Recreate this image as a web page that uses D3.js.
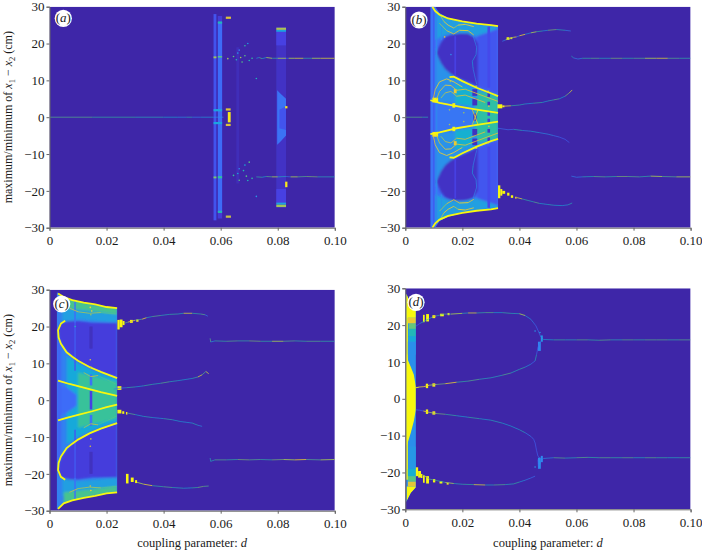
<!DOCTYPE html>
<html>
<head>
<meta charset="utf-8">
<script src="https://cdnjs.cloudflare.com/ajax/libs/d3/7.8.5/d3.min.js"></script>
<style>
html, body { margin: 0; padding: 0; background: #fff; }
svg text { font-family: "Liberation Serif", serif; fill: #1a1a1a; }
.axis text { font-size: 13px; }
.axis path, .axis line { stroke: #666; }
</style>
</head>
<body>
<div id="chart"></div>
<script>
// tick labels
var dTicks = [0, 0.02, 0.04, 0.06, 0.08, 0.10];
var yTicks = [-30, -20, -10, 0, 10, 20, 30];

// density -> colour stops (parula like)
var densityStops = [0, 0.11, 0.22, 0.33, 0.44, 0.55, 0.66, 0.77, 0.88, 1];
var densityColours = ["#3e26a8", "#4743e8", "#3d6cf8", "#2a92ea", "#14aed6", "#2fc19f", "#86ca66", "#d3bd40", "#f5cf2c", "#f8f80f"];

// bands: [density, [[d, low, high], ...]]
var bandsA = [
  [0.05, [[0.0795, -24.5, 24.5], [0.0829, -24.5, 24.5]]],
  [0.1, [[0.0795, 19.5, 23.5], [0.0829, 19.5, 23.5]]],
  [0.1, [[0.0795, -23.5, -19.5], [0.0829, -23.5, -19.5]]],
  [0.24, [[0.0798, -7.5, 7.3], [0.081, -6.6, 6.4], [0.0829, -5, 5]]],
  [0.15, [[0.0806, -3, 2], [0.0829, -3.5, 3]]],
  [0.15, [[0.0575, -28, 28], [0.0585, -28, 28]]],
  [0.08, [[0.059, -27.5, 27.5], [0.0605, -27.5, 27.5]]],
  [0.22, [[0.059, -25.8, 25.8], [0.0605, -25.8, 25.8]]],
  [0.03, [[0.0655, -18, 19], [0.0665, -18, 19]]]
];
var bandsB = [
  [0.24, [[0.0088, -30, 30], [0.0105, -30, 30], [0.012, -28.2, 28.2], [0.015, -27, 27], [0.02, -26, 26], [0.025, -25.4, 25.4], [0.0325, -24.7, 24.7]]],
  [0.16, [[0.025, -25, -8.3], [0.0325, -25, -6]]],
  [0.16, [[0.025, 8.3, 25], [0.0325, 6, 25]]],
  [0.38, [[0.0105, 21, 29], [0.015, 22.5, 27], [0.02, 22.8, 26], [0.025, 22, 25.4], [0.0325, 24, 24.7]]],
  [0.38, [[0.0105, -29, -21], [0.015, -27, -22.5], [0.02, -26, -22.8], [0.025, -25.4, -22], [0.0325, -24.7, -24]]],
  [0.33, [[0.0105, -19, 19], [0.012, -17, 17], [0.014, -14, 14], [0.016, -12, 12], [0.02, -10, 10], [0.025, -8, 8], [0.0325, -6, 6]]],
  [0.25, [[0.0105, -4, 4], [0.017, -4, 4], [0.0235, -2.5, 2.5]]],
  [0.54, [[0.0245, -3, 3], [0.0255, -7, 7], [0.0325, -5.8, 5.8]]],
  [0.45, [[0.0175, -9, -3.5], [0.0235, -7.5, -3]]],
  [0.45, [[0.0175, 3.5, 9], [0.0235, 3, 7.5]]],
  [0.05, [[0.0108, 17.5, 17.5], [0.0125, 14.7, 20.3], [0.014, 13, 21.8], [0.016, 11.7, 22.4], [0.019, 10.4, 22.7], [0.022, 9.5, 22.7], [0.024, 8.8, 21.8], [0.0254, 8.2, 20]]],
  [0.05, [[0.0108, -17.5, -17.5], [0.0125, -20.3, -14.7], [0.014, -21.8, -13], [0.016, -22.4, -11.7], [0.019, -22.7, -10.4], [0.022, -22.5, -9.5], [0.024, -21.8, -8.8], [0.0254, -20, -8.2]]]
];
var bandsC = [
  [0.28, [[0.0026, -29.7, 29.3], [0.005, -28, 28], [0.01, -26.8, 26.8], [0.015, -26, 26], [0.02, -25.3, 25.3], [0.0237, -25, 25]]],
  [0.38, [[0.0045, 21, 26], [0.01, 22, 26], [0.0237, 21, 25]]],
  [0.38, [[0.0045, -26, -21], [0.01, -26, -22], [0.0237, -25, -21]]],
  [0.58, [[0.005, 25, 28], [0.015, 24.2, 26], [0.0237, 23.3, 25]]],
  [0.58, [[0.005, -28, -25], [0.015, -26, -24.2], [0.0237, -25, -23.3]]],
  [0.09, [[0.003, 18.7, 18.7], [0.0035, 16.5, 20.5], [0.005, 14.5, 21.2], [0.007, 12.5, 21.5], [0.01, 10.5, 21.5], [0.015, 8.5, 21], [0.02, 7, 21], [0.0237, 6.2, 21]]],
  [0.09, [[0.003, -18.7, -18.7], [0.0035, -20.5, -16.5], [0.005, -21.2, -14.5], [0.007, -21.5, -12.5], [0.01, -21.5, -10.5], [0.015, -21, -8.5], [0.02, -21, -7], [0.0237, -21, -6.2]]],
  [0.42, [[0.006, -12, 12], [0.01, -10, 10], [0.015, -8.2, 8.2], [0.0237, -5.8, 5.8]]],
  [0.56, [[0.01, -7.5, 7.5], [0.015, -6.5, 6.5], [0.0237, -5, 5]]],
  [0.22, [[0.003, -4, 4], [0.006, -3.5, 3.5], [0.0095, -1.5, 1.5]]],
  [0.2, [[0.0026, -18, 18], [0.004, -15, 15]]]
];
var bandsD = [
  [0.32, [[0.0003, -28, 28.5], [0.001, -27, 27.5], [0.002, -25.5, 25.5], [0.0037, -24, 24]]],
  [1, [[0.0003, -13, 12.5], [0.001, -11.5, 10.3], [0.002, -9, 8.5], [0.003, -6, 6.5], [0.0037, -3, 3.2]]],
  [1, [[0.0003, -22, 28.5], [0.0009, -22, 28.5]]],
  [0.32, [[0.0009, 12, 15.5], [0.0037, 12, 15.5]]],
  [0.42, [[0.0012, 15.5, 17], [0.0037, 15.5, 17]]],
  [0.5, [[0.0012, 17, 19], [0.0037, 17, 19]]],
  [0.62, [[0.0012, 19, 20.5], [0.0037, 19, 20.5]]],
  [0.85, [[0.0009, 20.5, 22], [0.0037, 20.5, 22]]],
  [1, [[0.0005, 22, 28], [0.0037, 22, 24]]],
  [0.35, [[0.0012, -19, -13], [0.0037, -19, -13]]],
  [0.45, [[0.0009, -21, -19], [0.0037, -21, -19]]],
  [0.6, [[0.0009, -22.5, -21], [0.0037, -22.5, -21]]],
  [0.82, [[0.0009, -23.8, -22.5], [0.0037, -23.8, -22.5]]],
  [1, [[0.0005, -28, -23.8], [0.001, -27, -23.8], [0.002, -25.5, -23.8], [0.0037, -24.4, -23.8]]]
];

// blobs: [d0, d1, low, high, density]
var blobsA = [
  [0.0618, 0.0636, 26.7, 27.3, 0.8], [0.0618, 0.0636, -27.3, -26.7, 0.75],
  [0.0618, 0.0635, 1.8, 2.4, 0.8], [0.0618, 0.0635, -2.4, -1.8, 0.8],
  [0.0625, 0.0635, -1.4, 1.4, 0.95], [0.0795, 0.0829, 23.7, 24.3, 0.72],
  [0.0795, 0.0829, -24.4, -23.7, 0.7], [0.0795, 0.0829, 23.2, 23.7, 0.4],
  [0.0795, 0.0829, -23.7, -23.2, 0.4], [0.0575, 0.0585, 16, 16.5, 0.7],
  [0.059, 0.0605, 25.4, 26, 0.5], [0.059, 0.0605, -26, -25.4, 0.5],
  [0.0575, 0.0605, 1.6, 2.2, 0.4], [0.0575, 0.0605, -1.9, -1.3, 0.4],
  [0.0575, 0.0585, -16.6, -16.1, 0.65], [0.0826, 0.0834, 2.4, 3, 0.95],
  [0.0826, 0.0834, -19, -17.5, 0.95], [0.059, 0.0605, 16.2, 16.6, 0.6],
  [0.059, 0.0605, -16.6, -16, 0.55]
];
var blobsB = [
  [0.0098, 0.0102, -29, 29, 0.16], [0.0108, 0.0112, -28, 28, 0.3], [0.0125, 0.0128, -27, -21, 0.32], [0.0125, 0.0128, 21, 27, 0.32],
  [0.0172, 0.0178, 11, 22, 0.1], [0.0172, 0.0178, -22, -11, 0.1],
  [0.0288, 0.0297, 8, 24.6, 0.13], [0.0288, 0.0297, -24.6, -8, 0.13], [0.0288, 0.0297, 5.5, 6.5, 0.05], [0.0288, 0.0297, 3.2, 4.2, 0.05],
  [0.0288, 0.0297, 0.4, 1.6, 0.08], [0.0288, 0.0297, -1.6, -0.4, 0.08], [0.0288, 0.0297, -4.2, -3.2, 0.05], [0.0288, 0.0297, -6.5, -5.5, 0.05],
  [0.0235, 0.0252, 3.2, 5, 0.04], [0.0235, 0.0252, 5.8, 7.6, 0.04], [0.0235, 0.0252, -5, -3.2, 0.04], [0.0235, 0.0252, -7.6, -5.8, 0.04],
  [0.0238, 0.025, -1, 1, 0.06],
  [0.0325, 0.0333, -22, -18.5, 1], [0.0333, 0.034, -21.3, -19.5, 1], [0.034, 0.035, -20.8, -20, 1],
  [0.0357, 0.0365, -21.3, -20.5, 1], [0.037, 0.0378, -21.9, -21.2, 1], [0.0385, 0.039, -22.1, -21.6, 0.9],
  [0.0355, 0.0365, 21, 21.7, 1], [0.0368, 0.0375, 21.2, 21.7, 0.95], [0.0323, 0.034, 2.4, 3.5, 1],
  [0.034, 0.0348, 2.7, 3.2, 0.95], [0.0095, 0.0115, 4, 5.3, 1], [0.0095, 0.0115, -5.3, -4, 0.95],
  [0.0165, 0.0175, 2.6, 3.8, 1], [0.0165, 0.0175, -3.8, -2.6, 1], [0.017, 0.018, 6.5, 7.6, 0.85],
  [0.017, 0.018, -7.6, -6.5, 0.85], [0.0245, 0.0252, 8, 8.6, 0.7], [0.0245, 0.0252, -8.6, -8, 0.7]
];
var blobsC = [
  [0.0087, 0.0092, 8, 21, 0.17], [0.0087, 0.0092, -21, -8, 0.17], [0.0087, 0.0092, 21, 27, 0.22], [0.0087, 0.0092, -27, -21, 0.22],
  [0.014, 0.0151, 14, 20, 0.04], [0.014, 0.0151, -20, -14, 0.04], [0.0141, 0.015, -2.5, 2.5, 0.1],
  [0.0141, 0.015, -7, -4, 0.24], [0.0141, 0.015, 4, 7, 0.24],
  [0.0238, 0.0246, 19.2, 21.8, 1], [0.0246, 0.0256, 19.8, 21.9, 1], [0.0256, 0.0263, 20.4, 21.5, 1],
  [0.0282, 0.0292, 21, 21.8, 1], [0.0304, 0.0312, 21.3, 21.9, 0.95], [0.0238, 0.0252, 2.8, 3.8, 1],
  [0.0238, 0.0252, -3.6, -2.6, 1], [0.0255, 0.0262, -3.7, -3, 1], [0.0268, 0.0273, -3.9, -3.2, 0.95],
  [0.0268, 0.0277, -22.6, -20, 1], [0.0285, 0.0295, -22.2, -21, 1], [0.03, 0.0307, -22.5, -21.7, 1]
];
var blobsD = [
  [0.0037, 0.0045, -21, -18.6, 1], [0.0045, 0.0055, -21.4, -19.6, 1], [0.0055, 0.006, -21.5, -20.4, 1],
  [0.0062, 0.0068, 20.8, 22.8, 1], [0.0073, 0.0083, 21, 23, 1], [0.0095, 0.0105, 21.9, 22.7, 1],
  [0.0122, 0.0135, 22.4, 23.1, 1], [0.0148, 0.0155, 22.7, 23.3, 0.95], [0.0062, 0.0068, -22.8, -20.8, 1],
  [0.0073, 0.0083, -23, -21, 1], [0.0097, 0.0105, -22.7, -21.8, 1], [0.012, 0.013, -23, -22.4, 1],
  [0.0145, 0.0152, -23.3, -22.8, 0.95], [0.0072, 0.008, 2.9, 4.1, 1], [0.0095, 0.0105, 3.3, 4.2, 0.95],
  [0.0072, 0.008, -4.1, -2.9, 1], [0.0095, 0.0105, -4.3, -3.4, 0.95], [0.0465, 0.0475, 13, 15.5, 0.3],
  [0.0465, 0.0475, -19, -16, 0.32], [0.0475, 0.0482, 15.5, 17.2, 0.35], [0.0475, 0.0482, -17.2, -15.5, 0.3]
];

// scatter: [d, y, density]
var specksA = [
  [0.0625, 15.9, 0.7], [0.0645, 16.5, 0.6], [0.0655, 15.6, 0.5], [0.066, 17.4, 0.35], [0.0665, 18.2, 0.25],
  [0.067, 16.2, 0.7], [0.0675, 15, 0.6], [0.0685, 19.4, 0.55], [0.0695, 20, 0.35], [0.0685, 16.7, 0.6],
  [0.07, 15.4, 0.5], [0.071, 16, 0.55], [0.0725, 10.5, 0.5], [0.0645, -15.8, 0.55], [0.066, -15.3, 0.4],
  [0.0665, -17.1, 0.6], [0.068, -14.5, 0.5], [0.069, -16, 0.6], [0.07, -12.2, 0.6], [0.0685, -13, 0.45],
  [0.0665, -14, 0.3], [0.071, -16.6, 0.55], [0.0725, -21.5, 0.35], [0.0695, -17.2, 0.5]
];
var specksB = [
  [0.0138, 21.8, 0.8], [0.0158, 9.7, 0.7], [0.016, 17, 0.3], [0.0155, 2, 0.7], [0.0155, -2, 0.7],
  [0.0205, 1.2, 0.7], [0.0205, -1.2, 0.7], [0.029, 7, 0.9], [0.029, -7, 0.8], [0.0293, 3, 0.8], [0.0293, -2.5, 0.8]
];
var specksC = [
  [0.0143, 25.2, 0.9], [0.0148, 24.2, 0.9], [0.0145, 23.2, 0.7], [0.0143, 11, 0.8], [0.0145, 9, 0.75],
  [0.0143, -12.5, 0.8], [0.0145, -10.5, 0.8], [0.0145, -24.5, 0.9], [0.0143, -23.3, 0.8], [0.009, 20, 0.5]
];
var specksD = [
  [0.0472, 18, 0.35], [0.047, -18, 0.3], [0.0455, 18.4, 0.35], [0.0455, -18.5, 0.35]
];

// thin branches: [d, y, density]
var tracesA = [
  [[0, 0, 0.6], [0.015, 0, 0.55], [0.03, 0, 0.5], [0.04, 0, 0.45], [0.045, 0, 0.35], [0.048, 0, 0.5], [0.05, 0, 0.3], [0.053, 0, 0.4], [0.0575, 0, 0.35], [0.061, 0, 0.45]],
  [[0.0725, 16, 0.4], [0.0735, 16.2, 0.6], [0.0745, 15.9, 0.45], [0.076, 16.2, 0.7], [0.078, 16, 0.55], [0.08, 16, 0.7], [0.0829, 16, 0.25], [0.0838, 16, 0.7], [0.086, 16, 0.75], [0.089, 16, 0.55], [0.092, 16, 0.7], [0.095, 16, 0.75], [0.1, 16, 0.6]],
  [[0.0725, -16.2, 0.55], [0.0745, -16.3, 0.45], [0.076, -16.1, 0.6], [0.078, -16.2, 0.7], [0.08, -16.2, 0.5], [0.083, -16.1, 0.25], [0.0845, -16.2, 0.7], [0.087, -16.2, 0.6], [0.09, -16.1, 0.65], [0.094, -16.2, 0.5], [0.1, -16.2, 0.55]]
];
var tracesB = [
  [[0, 0, 0.6], [0.006, 0, 0.5], [0.008, 0, 0.3]],
  [[0.034, 20.6, 0.3], [0.0352, 21, 0.7], [0.038, 21.7, 0.8], [0.039, 21.8, 0.3], [0.04, 22.1, 0.8], [0.042, 22.5, 0.4], [0.044, 22.9, 0.7], [0.046, 23.2, 0.55], [0.048, 23.4, 0.4], [0.05, 23.6, 0.65], [0.053, 23.8, 0.5], [0.056, 23.6, 0.3], [0.058, 23.4, 0.2]],
  [[0.0348, 3, 0.8], [0.037, 3.1, 0.55], [0.04, 3.3, 0.5], [0.042, 3.6, 0.4], [0.045, 3.8, 0.55], [0.048, 4, 0.45], [0.05, 4.4, 0.5], [0.052, 4.7, 0.6], [0.054, 5, 0.45], [0.056, 5.7, 0.65], [0.0575, 6.6, 0.75], [0.0585, 7.4, 0.8]],
  [[0.0325, -3, 0.25], [0.036, -3.4, 0.25], [0.038, -3.3, 0.5], [0.041, -3.6, 0.35], [0.044, -3.8, 0.45], [0.047, -4.2, 0.35], [0.05, -4.6, 0.35], [0.052, -5, 0.25], [0.054, -5.4, 0.2], [0.056, -6, 0.2], [0.0575, -6.9, 0.18]],
  [[0.039, -21.8, 0.75], [0.041, -22.2, 0.55], [0.043, -22.6, 0.5], [0.045, -23, 0.6], [0.047, -23.4, 0.45], [0.05, -23.7, 0.5], [0.052, -23.9, 0.45], [0.055, -24, 0.4], [0.057, -23.8, 0.5], [0.0585, -23.3, 0.3]],
  [[0.0582, 16.6, 0.5], [0.059, 16.1, 0.3], [0.0605, 15.8, 0.35], [0.062, 16, 0.55], [0.065, 16, 0.6], [0.068, 16, 0.5], [0.072, 16, 0.65], [0.076, 16, 0.55], [0.08, 16, 0.6], [0.084, 16, 0.7], [0.088, 16, 0.75], [0.092, 16, 0.6], [0.096, 16, 0.55], [0.1, 16, 0.5]],
  [[0.0582, -16, 0.3], [0.06, -16.3, 0.3], [0.062, -16.2, 0.5], [0.066, -16.1, 0.6], [0.07, -16.2, 0.55], [0.074, -16.1, 0.65], [0.078, -16.1, 0.6], [0.082, -16.2, 0.55], [0.086, -16, 0.7], [0.09, -16.1, 0.6], [0.095, -16.2, 0.7], [0.1, -16.2, 0.6]],
  [[0.012, 28, 0.7], [0.0135, 26, 0.85], [0.015, 25, 0.85], [0.017, 24.2, 0.7], [0.0185, 25, 0.9], [0.021, 25.2, 0.85], [0.024, 24.6, 0.85]],
  [[0.012, 25.5, 0.7], [0.0145, 23.5, 0.8], [0.017, 22.6, 0.8], [0.019, 23.6, 0.9], [0.022, 23.5, 0.8], [0.024, 22.3, 0.8]],
  [[0.012, -28, 0.7], [0.0135, -26, 0.85], [0.015, -25, 0.85], [0.017, -24.2, 0.7], [0.0185, -25, 0.9], [0.021, -25.2, 0.85], [0.024, -24.6, 0.85]],
  [[0.012, -25.5, 0.7], [0.0145, -23.5, 0.8], [0.017, -22.4, 0.8], [0.019, -23.3, 0.9], [0.022, -23.2, 0.8], [0.024, -22.3, 0.8]],
  [[0.0098, 5, 0.8], [0.0105, 7.5, 0.85], [0.012, 9.6, 0.85], [0.0145, 10.4, 0.9], [0.017, 9.6, 0.85], [0.02, 8.2, 0.8]],
  [[0.011, 5, 0.75], [0.012, 7, 0.8], [0.014, 8.7, 0.85], [0.016, 8.6, 0.8], [0.018, 7.3, 0.8], [0.021, 7.6, 0.8], [0.0245, 6.6, 0.8], [0.0325, 4.3, 0.7]],
  [[0.0125, 5.2, 0.7], [0.014, 6.6, 0.75], [0.016, 7, 0.75], [0.018, 5.7, 0.8], [0.021, 6, 0.8], [0.0245, 5, 0.8], [0.028, 4, 0.7]],
  [[0.0098, -5, 0.8], [0.0105, -7.5, 0.85], [0.012, -9.6, 0.85], [0.0145, -10.4, 0.9], [0.017, -9.6, 0.85], [0.02, -8.2, 0.8]],
  [[0.011, -5, 0.75], [0.012, -7, 0.8], [0.014, -8.7, 0.85], [0.016, -8.6, 0.8], [0.018, -7.3, 0.8], [0.021, -7.6, 0.8], [0.0245, -6.6, 0.8], [0.0325, -4.3, 0.7]],
  [[0.0125, -5.2, 0.7], [0.014, -6.6, 0.75], [0.016, -7, 0.75], [0.018, -5.7, 0.8], [0.021, -6, 0.8], [0.0245, -5, 0.8], [0.028, -4, 0.7]],
  [[0.0235, 2, 0.8], [0.0245, 0, 0.9], [0.0255, 2, 0.8]],
  [[0.0235, -2, 0.75], [0.0245, 0, 0.9], [0.0255, -2, 0.75]],
  [[0.0238, 22, 0.3], [0.025, 19, 0.33], [0.0248, 17, 0.38], [0.0235, 15.2, 0.42], [0.0238, 13, 0.3], [0.025, 9, 0.28]],
  [[0.0238, -22, 0.3], [0.025, -19, 0.33], [0.0248, -17, 0.38], [0.0235, -15.2, 0.42], [0.0238, -13, 0.3], [0.025, -9, 0.28]]
];
var tracesC = [
  [[0.0263, 20.9, 0.6], [0.0275, 21.2, 0.8], [0.03, 21.7, 0.6], [0.0325, 22, 0.8], [0.034, 22.4, 0.5], [0.036, 22.7, 0.6], [0.039, 23, 0.5], [0.042, 23.3, 0.55], [0.045, 23.4, 0.5], [0.047, 23.6, 0.75], [0.05, 23.6, 0.55], [0.053, 23.4, 0.6], [0.0545, 23.2, 0.3], [0.0555, 22.8, 0.15]],
  [[0.0225, 3, 0.2], [0.0252, 3.3, 0.3], [0.027, 3.4, 0.55], [0.03, 3.6, 0.45], [0.033, 3.9, 0.55], [0.036, 4.3, 0.5], [0.039, 4.6, 0.6], [0.042, 5, 0.5], [0.045, 5.3, 0.45], [0.05, 5.9, 0.55], [0.052, 6.3, 0.75], [0.0535, 6.9, 0.6], [0.0548, 7.8, 0.75], [0.0558, 7.2, 0.6]],
  [[0.0273, -3.5, 0.6], [0.03, -3.9, 0.45], [0.033, -4.4, 0.5], [0.036, -4.7, 0.4], [0.04, -5, 0.55], [0.043, -5.3, 0.45], [0.046, -5.8, 0.4], [0.05, -6.2, 0.5], [0.052, -6.8, 0.35], [0.0535, -7.1, 0.7]],
  [[0.0307, -22.3, 0.7], [0.033, -22.8, 0.8], [0.036, -23.2, 0.55], [0.04, -23.5, 0.6], [0.043, -23.7, 0.5], [0.047, -23.9, 0.45], [0.05, -23.8, 0.55], [0.052, -23.7, 0.65], [0.054, -23.4, 0.6], [0.0558, -23.3, 0.75]],
  [[0.0563, 16.8, 0.6], [0.0565, 15.8, 0.4], [0.058, 16.1, 0.55], [0.062, 16, 0.6], [0.066, 16.1, 0.55], [0.07, 16.1, 0.65], [0.074, 16, 0.55], [0.078, 16, 0.7], [0.082, 16, 0.6], [0.086, 16.1, 0.55], [0.09, 16, 0.6], [0.095, 16, 0.55], [0.1, 16, 0.6]],
  [[0.0563, -15.7, 0.5], [0.0565, -16.6, 0.5], [0.058, -16.2, 0.6], [0.062, -16.2, 0.55], [0.066, -16.1, 0.65], [0.07, -16.2, 0.6], [0.074, -16.1, 0.55], [0.078, -16.2, 0.65], [0.082, -16.1, 0.7], [0.086, -16.2, 0.8], [0.09, -16.1, 0.6], [0.095, -16.2, 0.7], [0.1, -16.1, 0.6]],
  [[0.007, 25, 0.75], [0.01, 24, 0.7], [0.014, 23.6, 0.7], [0.018, 23.8, 0.6], [0.0235, 23.4, 0.6]],
  [[0.007, -25, 0.75], [0.01, -24, 0.7], [0.014, -23.6, 0.7], [0.018, -23.8, 0.6], [0.0235, -23.4, 0.6]],
  [[0.012, 7.5, 0.7], [0.0145, 6.4, 0.75], [0.017, 6.7, 0.6], [0.0235, 4.3, 0.65]],
  [[0.012, -7.5, 0.7], [0.0145, -6.4, 0.75], [0.017, -6.7, 0.6], [0.0235, -4.3, 0.65]]
];
var tracesD = [
  [[0.0037, 19.7, 0.2], [0.005, 20.4, 0.3], [0.0055, 20.6, 0.5], [0.0085, 21.8, 0.55], [0.0095, 22.2, 0.8], [0.0108, 22.5, 0.55], [0.012, 22.7, 0.6], [0.0138, 23, 0.6], [0.016, 23, 0.7], [0.02, 23.2, 0.5], [0.022, 23.3, 0.75], [0.025, 23.3, 0.55], [0.028, 23.4, 0.6], [0.031, 23.4, 0.45], [0.034, 23.4, 0.55], [0.037, 23.2, 0.5], [0.04, 23.1, 0.7], [0.042, 22.6, 0.4], [0.044, 21.6, 0.3], [0.045, 20.6, 0.25], [0.0458, 19.8, 0.22], [0.0465, 18.6, 0.28]],
  [[0.0037, -3, 0.25], [0.005, -3.1, 0.2], [0.0063, -3.3, 0.8], [0.0085, -3.7, 0.7], [0.011, -4, 0.65], [0.014, -4.2, 0.55], [0.018, -4.6, 0.45], [0.022, -5, 0.55], [0.026, -5.4, 0.45], [0.03, -5.8, 0.5], [0.034, -6.6, 0.45], [0.037, -7.4, 0.45], [0.04, -8.4, 0.5], [0.042, -9.2, 0.3], [0.044, -10.2, 0.25], [0.045, -11, 0.2], [0.0455, -12, 0.2], [0.046, -14, 0.2], [0.0465, -15.6, 0.2], [0.0475, -16.3, 0.3]],
  [[0.0037, 3, 1], [0.005, 3.2, 0.8], [0.0065, 3.3, 0.85], [0.0085, 3.7, 0.7], [0.011, 3.9, 0.65], [0.014, 4.1, 0.8], [0.018, 4.5, 0.55], [0.022, 4.8, 0.6], [0.026, 5.3, 0.5], [0.03, 5.7, 0.5], [0.034, 6.4, 0.6], [0.037, 7, 0.5], [0.04, 8, 0.55], [0.042, 8.6, 0.4], [0.044, 9.4, 0.25], [0.0455, 10.3, 0.5], [0.046, 12, 0.2], [0.0465, 14, 0.2], [0.0475, 15.6, 0.3]],
  [[0.0062, -20.7, 0.7], [0.0085, -21.8, 0.6], [0.011, -22.2, 0.55], [0.014, -22.7, 0.7], [0.017, -23, 0.5], [0.02, -23.2, 0.55], [0.024, -23.3, 0.75], [0.028, -23.4, 0.5], [0.031, -23.4, 0.6], [0.035, -23.3, 0.5], [0.038, -23.1, 0.55], [0.04, -22.6, 0.4], [0.042, -22.1, 0.3], [0.044, -21.5, 0.25], [0.0455, -21, 0.25]],
  [[0.0465, -16.5, 0.2], [0.0467, -18.8, 0.3], [0.0475, -16.8, 0.3], [0.0485, -16.2, 0.35]],
  [[0.0465, 18.6, 0.25], [0.0475, 16.8, 0.35], [0.0485, 16.1, 0.45]],
  [[0.0485, 16.1, 0.45], [0.052, 16, 0.55], [0.056, 16, 0.5], [0.06, 16, 0.6], [0.064, 16, 0.55], [0.068, 15.9, 0.6], [0.072, 16, 0.5], [0.076, 16, 0.6], [0.08, 16, 0.55], [0.084, 16, 0.6], [0.088, 16, 0.6], [0.092, 16, 0.55], [0.096, 16, 0.6], [0.1, 16, 0.6]],
  [[0.0485, -16.2, 0.35], [0.052, -16, 0.6], [0.056, -16.1, 0.5], [0.06, -16, 0.6], [0.064, -15.9, 0.55], [0.068, -16, 0.6], [0.072, -16, 0.55], [0.076, -16, 0.6], [0.08, -16, 0.5], [0.084, -16, 0.6], [0.088, -16, 0.55], [0.092, -16, 0.5], [0.096, -16, 0.55], [0.1, -16, 0.5]]
];

// heavy yellow ridges: [d, y]
var ridgesA = [];
var ridgesB = [
  [[0.0095, 30], [0.0105, 28.8], [0.012, 27.8], [0.015, 26.8], [0.02, 26], [0.025, 25.4], [0.03, 25], [0.0325, 24.7]],
  [[0.0095, -30], [0.0105, -28.8], [0.012, -27.8], [0.015, -26.8], [0.02, -26], [0.025, -25.4], [0.03, -25], [0.0325, -24.7]],
  [[0.0155, 10.9], [0.017, 11], [0.02, 9.8], [0.025, 8], [0.03, 6.5], [0.0325, 5.7]],
  [[0.0155, -10.9], [0.017, -11], [0.02, -9.8], [0.025, -8], [0.03, -6.5], [0.0325, -5.9]],
  [[0.0088, 4.6], [0.012, 3.9], [0.018, 3], [0.024, 2.2], [0.0325, 1.2]],
  [[0.0088, -4.6], [0.012, -4.1], [0.018, -3], [0.024, -2.2], [0.0325, -1.2]]
];
var ridgesC = [
  [[0.003, 29], [0.005, 28], [0.008, 27.2], [0.012, 26.5], [0.016, 26], [0.02, 25.3], [0.0237, 25]],
  [[0.003, -29.5], [0.005, -28], [0.008, -27.2], [0.012, -26.5], [0.016, -26], [0.02, -25.3], [0.0237, -25]],
  [[0.0055, 21.6], [0.004, 20.8], [0.003, 19], [0.0032, 17], [0.004, 15.3], [0.006, 13], [0.008, 11.8], [0.01, 10.7], [0.014, 9], [0.018, 7.7], [0.0237, 6]],
  [[0.0055, -21.6], [0.004, -20.8], [0.003, -19], [0.0032, -17], [0.004, -15.3], [0.006, -13], [0.008, -11.8], [0.01, -10.7], [0.014, -9], [0.018, -7.7], [0.0237, -6.2]],
  [[0.003, 5.3], [0.007, 4.4], [0.012, 3.4], [0.018, 2.2], [0.0237, 1.2]],
  [[0.003, -5.5], [0.006, -4.8], [0.01, -4], [0.015, -3], [0.02, -1.9], [0.0237, -1.2]]
];
var ridgesD = [];

var panelLetters = ["a", "b", "c", "d"];
var panelLeft = [49.5, 405.3, 49.5, 405.3];
var panelTop = [6.7, 6.7, 289.7, 288.3];
var panelBands = [bandsA, bandsB, bandsC, bandsD];
var panelBlobs = [blobsA, blobsB, blobsC, blobsD];
var panelSpecks = [specksA, specksB, specksC, specksD];
var panelTraces = [tracesA, tracesB, tracesC, tracesD];
var panelRidges = [ridgesA, ridgesB, ridgesC, ridgesD];
var panelSoftness = [0.5, 0.9, 0.9, 0.5];
var badgeX = [63.3, 419, 61.7, 416];
var badgeY = [18.3, 20, 304, 302.3];

var w = 702, h = 550;
var pw = 285.3, ph = 221;

var colour = d3.scaleLinear().domain(densityStops).range(densityColours);

var svg = d3.select("#chart").append("svg")
  .attr("width", w)
  .attr("height", h)
  .style("display", "block");

var defs = svg.append("defs");

function blurFilter(id, amount) {
  defs.append("filter")
    .attr("id", id)
    .attr("filterUnits", "userSpaceOnUse")
    .attr("x", -10).attr("y", -10).attr("width", pw + 20).attr("height", ph + 20)
    .append("feGaussianBlur")
    .attr("stdDeviation", amount);
}
blurFilter("soft", 0.5);

panelLetters.forEach(function(letter, i) { drawPanel(letter, i); });

function drawPanel(letter, i) {
  var left = panelLeft[i], top = panelTop[i];
  var x = d3.scaleLinear().domain([0, 0.1]).range([0, pw]);
  var y = d3.scaleLinear().domain([-30, 30]).range([ph, 0]);

  var g = svg.append("g").attr("transform", "translate(" + left + "," + top + ")");

  defs.append("clipPath")
    .attr("id", "clip-" + letter)
    .append("rect")
    .attr("width", pw)
    .attr("height", ph);
  blurFilter("bands-" + letter, panelSoftness[i]);

  var holder = g.append("g").attr("clip-path", "url(#clip-" + letter + ")");

  holder.append("rect")
    .attr("width", pw)
    .attr("height", ph)
    .attr("fill", colour(0));

  var area = d3.area()
    .x(function(p) { return x(p[0]); })
    .y0(function(p) { return y(p[1]); })
    .y1(function(p) { return y(p[2]); });

  // panels b, c and d: first band is the outline, the inner ones fade into
  // each other but stop at its edge
  var bandData = panelBands[i];
  var bandHolder = holder;
  if (i > 0) {
    holder.append("path")
      .attr("d", area(bandData[0][1]))
      .attr("fill", colour(bandData[0][0]))
      .attr("filter", "url(#soft)");
    defs.append("clipPath")
      .attr("id", "edge-" + letter)
      .append("path")
      .attr("d", area(bandData[0][1]));
    bandHolder = holder.append("g").attr("clip-path", "url(#edge-" + letter + ")");
    bandData = bandData.slice(1);
  }

  var bandsG = bandHolder.append("g").attr("filter", "url(#bands-" + letter + ")");
  bandsG.selectAll("path.band")
    .data(bandData)
    .enter().append("path")
    .attr("class", "band")
    .attr("d", function(b) { return area(b[1]); })
    .attr("fill", function(b) { return colour(b[0]); });

  var plot = holder.append("g").attr("filter", "url(#soft)");

  var line = d3.line()
    .x(function(p) { return x(p[0]); })
    .y(function(p) { return y(p[1]); });

  plot.selectAll("rect.blob")
    .data(panelBlobs[i])
    .enter().append("rect")
    .attr("class", "blob")
    .attr("x", function(c) { return x(c[0]); })
    .attr("width", function(c) { return x(c[1]) - x(c[0]); })
    .attr("y", function(c) { return y(c[3]); })
    .attr("height", function(c) { return y(c[2]) - y(c[3]); })
    .attr("fill", function(c) { return colour(c[4]); });

  // one short path per segment so density can change along a branch
  var segments = [];
  panelTraces[i].forEach(function(tr) {
    d3.pairs(tr).forEach(function(pair) { segments.push(pair); });
  });

  plot.selectAll("path.trace")
    .data(segments)
    .enter().append("path")
    .attr("class", "trace")
    .attr("d", line)
    .attr("fill", "none")
    .attr("stroke", function(s) { return colour(s[0][2]); })
    .attr("stroke-opacity", function(s) { return s[0][2] > 0.68 ? 1 : 0.7; })
    .attr("stroke-width", 0.85);

  plot.selectAll("path.ridge")
    .data(panelRidges[i])
    .enter().append("path")
    .attr("class", "ridge")
    .attr("d", line)
    .attr("fill", "none")
    .attr("stroke", colour(1))
    .attr("stroke-width", 1.8);

  plot.selectAll("circle.speck")
    .data(panelSpecks[i])
    .enter().append("circle")
    .attr("class", "speck")
    .attr("cx", function(p) { return x(p[0]); })
    .attr("cy", function(p) { return y(p[1]); })
    .attr("r", 0.8)
    .attr("fill", function(p) { return colour(p[2]); });

  // axes
  var xAxis = d3.axisBottom(x)
    .tickValues(dTicks)
    .tickSize(3)
    .tickPadding(5)
    .tickFormat(function(v) { return v === 0 ? "0" : d3.format(".2f")(v); });
  g.append("g")
    .attr("class", "axis")
    .attr("transform", "translate(0," + ph + ")")
    .call(xAxis);

  var yAxis = d3.axisLeft(y)
    .tickValues(yTicks)
    .tickSize(3)
    .tickPadding(2)
    .tickFormat(function(v) { return v < 0 ? "\u2212" + Math.abs(v) : String(v); });
  g.append("g")
    .attr("class", "axis")
    .call(yAxis);

  // badge
  svg.append("circle")
    .attr("cx", badgeX[i])
    .attr("cy", badgeY[i])
    .attr("r", 8.6)
    .attr("fill", "#fff");
  var badge = svg.append("text")
    .attr("x", badgeX[i])
    .attr("y", badgeY[i] + 4)
    .attr("text-anchor", "middle")
    .style("font-size", "13px");
  badge.append("tspan").text("(");
  badge.append("tspan").style("font-style", "italic").text(letter);
  badge.append("tspan").text(")");

  if (i % 2 == 0) yLabel(8, top + ph / 2);
  if (i >= 2) xLabel(left + pw / 2);
}

function yLabel(px, py) {
  var t = svg.append("text")
    .attr("transform", "translate(" + (px + 4) + "," + py + ") rotate(-90)")
    .attr("text-anchor", "middle")
    .style("font-size", "12px");
  t.append("tspan").text("maximum/minimum of ");
  t.append("tspan").style("font-style", "italic").text("x");
  t.append("tspan").attr("dy", 3).style("font-size", "8.5px").text("1");
  t.append("tspan").attr("dy", -3).text(" \u2212 ");
  t.append("tspan").style("font-style", "italic").text("x");
  t.append("tspan").attr("dy", 3).style("font-size", "8.5px").text("2");
  t.append("tspan").attr("dy", -3).text(" (cm)");
}

function xLabel(px) {
  var t = svg.append("text")
    .attr("x", px)
    .attr("y", 547)
    .attr("text-anchor", "middle")
    .style("font-size", "12.5px");
  t.append("tspan").text("coupling parameter: ");
  t.append("tspan").style("font-style", "italic").text("d");
}
</script>
</body>
</html>
